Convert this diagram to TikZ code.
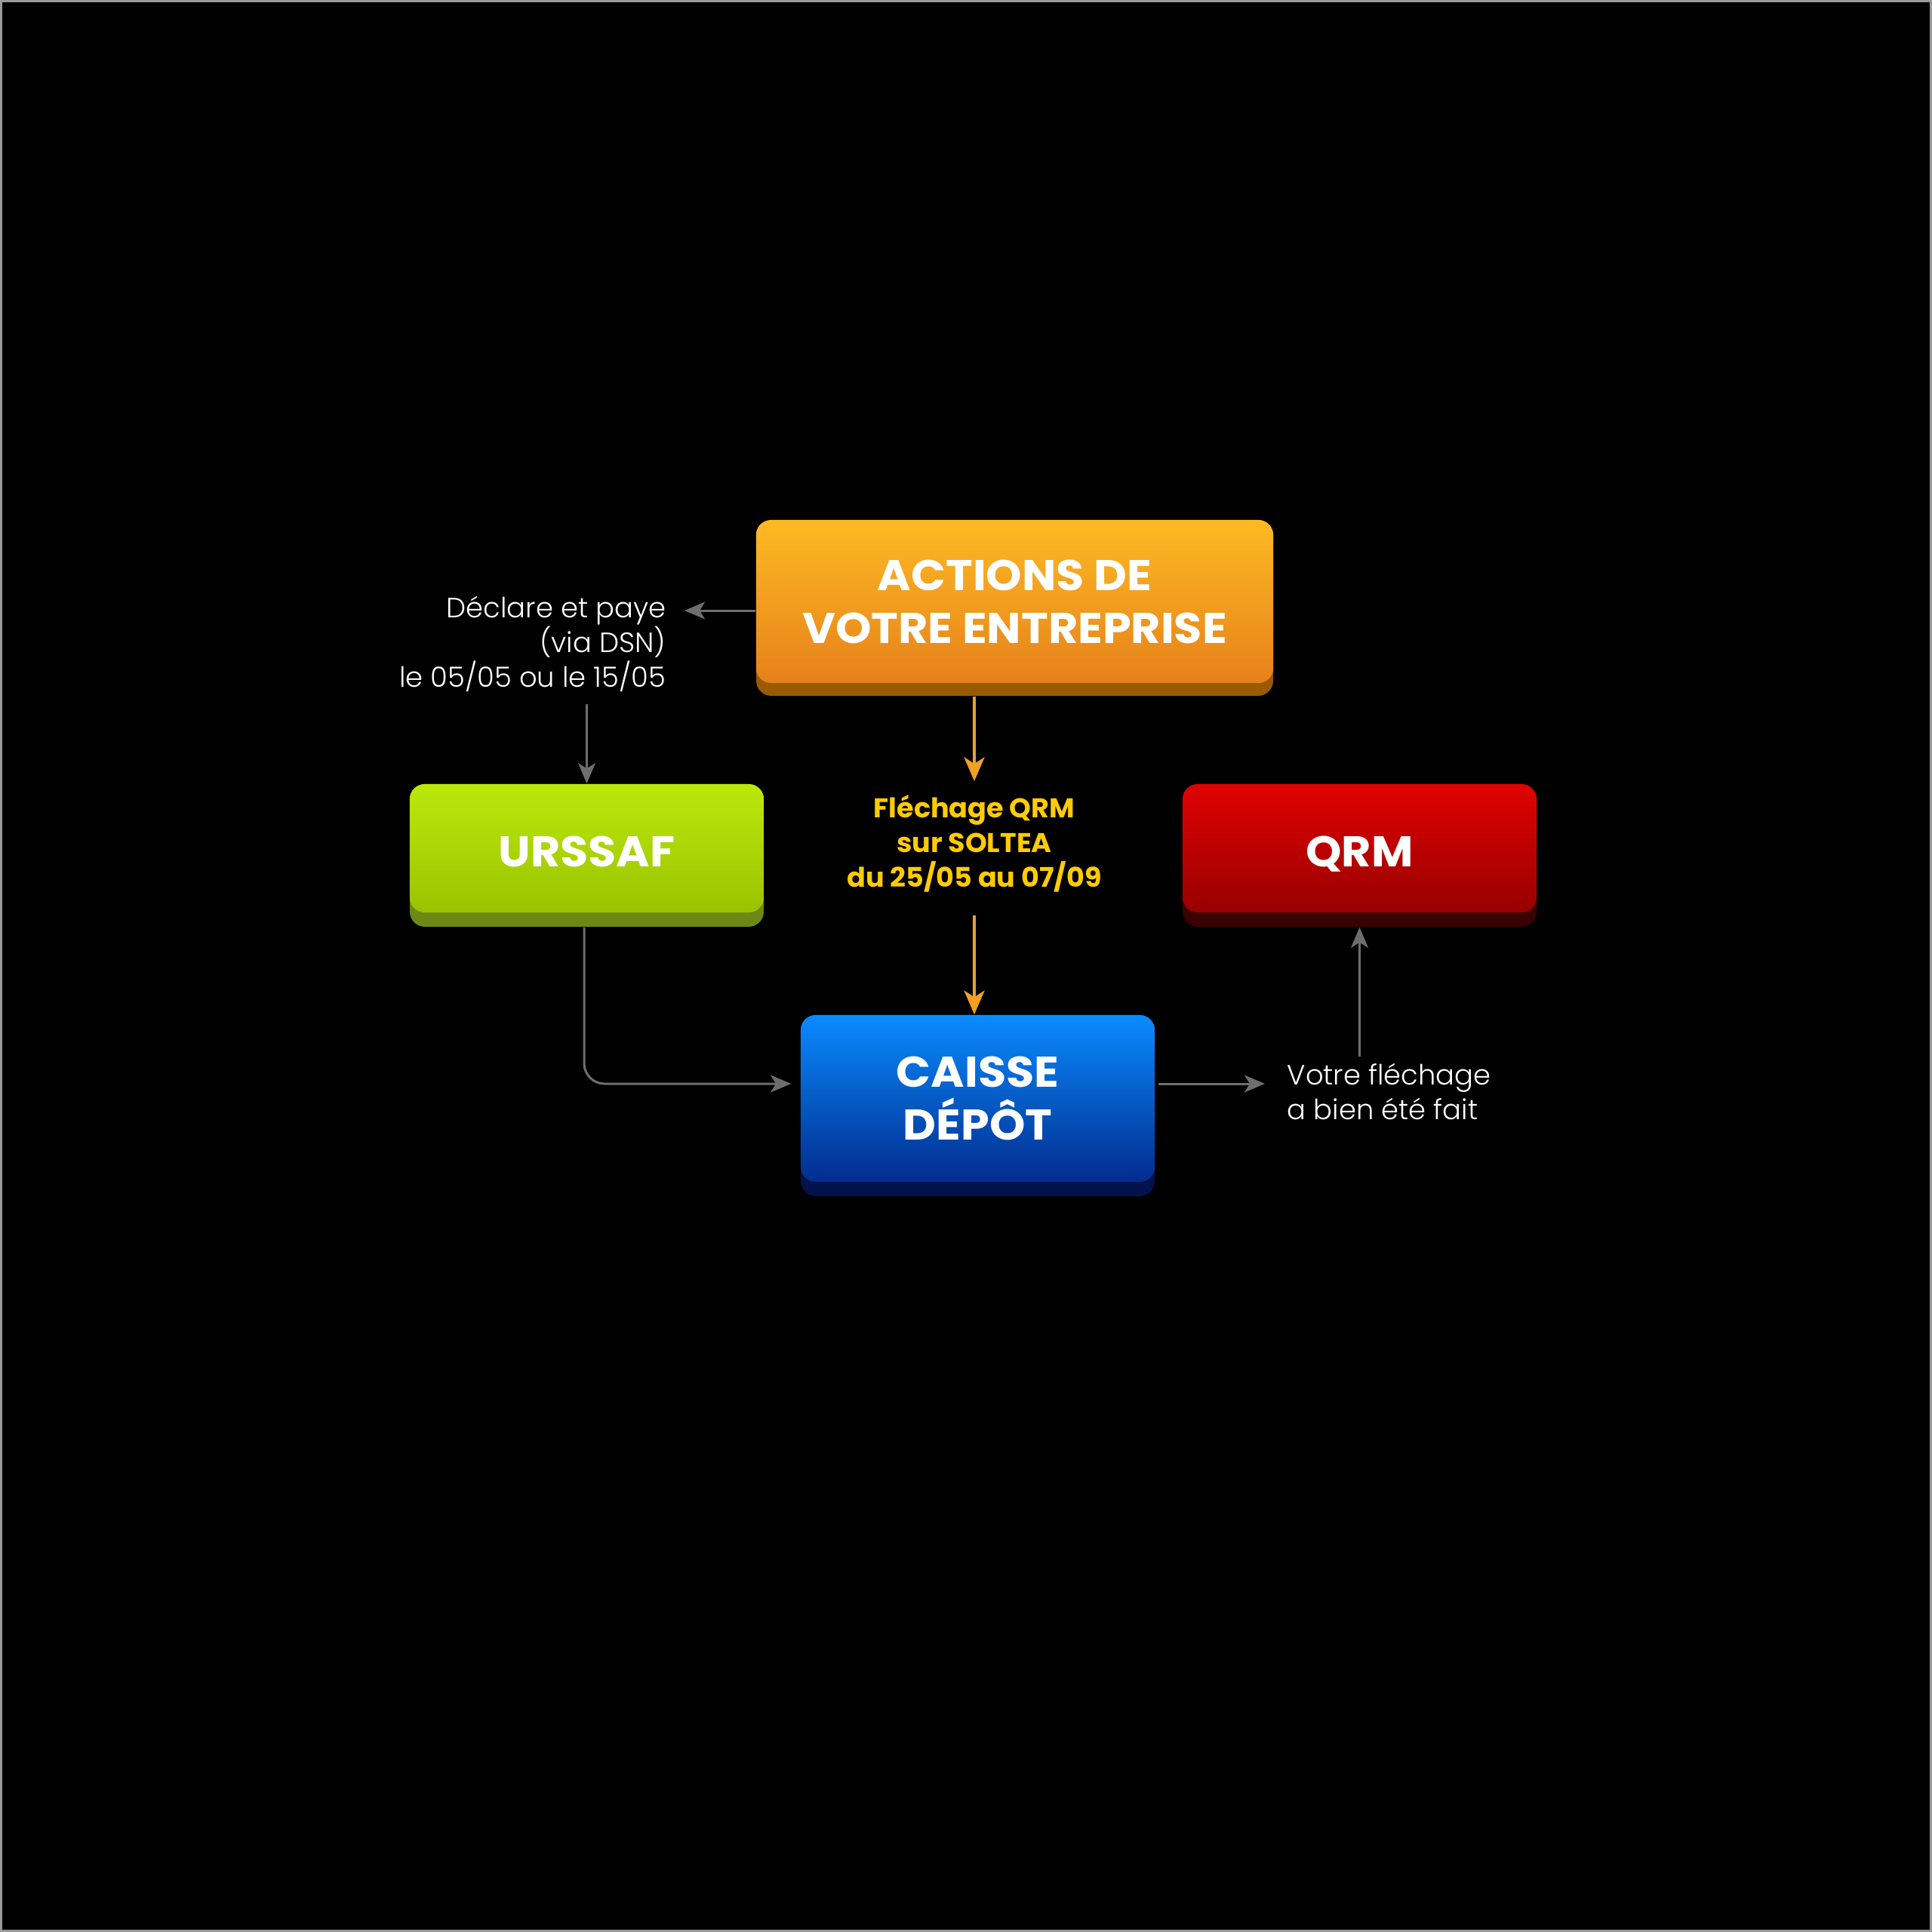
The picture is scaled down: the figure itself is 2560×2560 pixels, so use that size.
\documentclass[tikz,border=0pt]{standalone}
\usepackage{fontspec}
\setmainfont{Poppins}
\newfontfamily\lightf{Poppins Light}
\newfontfamily\boldf[FakeStretch=1.06]{Poppins Bold}
\newfontfamily\yelf[FakeStretch=1.02]{Poppins Bold}
\usetikzlibrary{arrows.meta,calc}
\definecolor{orTop}{HTML}{FDBA24}
\definecolor{orBot}{HTML}{E6811A}
\definecolor{orSh}{HTML}{985A03}
\definecolor{grTop}{HTML}{BDE80B}
\definecolor{grBot}{HTML}{9AC300}
\definecolor{grSh}{HTML}{6C8915}
\definecolor{rdTop}{HTML}{E00202}
\definecolor{rdBot}{HTML}{980000}
\definecolor{rdSh}{HTML}{3A0101}
\definecolor{blTop}{HTML}{0A8BFF}
\definecolor{blBot}{HTML}{022C8E}
\definecolor{blSh}{HTML}{03124A}
\definecolor{yel}{HTML}{FFCB05}
\definecolor{lineGray}{HTML}{6E6E6E}
\definecolor{orArrow}{HTML}{F2A023}
\definecolor{frameGray}{HTML}{9A9A9A}
\begin{document}
\begin{tikzpicture}[x=0.01cm,y=-0.01cm,
  face/.style={rectangle, rounded corners=0.2cm, inner sep=0pt, text=white, align=center,
    font=\boldf\fontsize{16.2}{19.9}\selectfont},
  oneline/.style={text height=0.48cm, text depth=0pt},
  boxshadow/.style={rounded corners=0.2cm},
  lighttext/.style={inner sep=0pt, text=white, font=\lightf\fontsize{10.5}{13.1}\selectfont},
  yeltext/.style={inner sep=0pt, text=yel, align=center, font=\yelf\fontsize{10.2}{13.1}\selectfont},
  garrow/.style={draw=lineGray, line width=0.85pt, -{Stealth[length=7.7pt,width=6.5pt,inset=2pt]}},
  oarrow/.style={draw=orArrow, line width=1.3pt, -{Stealth[length=9pt,width=7.7pt,inset=2.5pt]}}]
\useasboundingbox (0,0) rectangle (2560,2560);
\fill[black] (0,0) rectangle (2560,2560);
\draw[frameGray, line width=0.85pt] (1.5,1.5) rectangle (2558.5,2558.5);

% shadows
\fill[orSh, boxshadow] (1002,689) rectangle (1687,922);
\fill[grSh, boxshadow] (543,1039) rectangle (1012,1228);
\fill[rdSh, boxshadow] (1567,1039) rectangle (2036,1228);
\fill[blSh, boxshadow] (1061,1345) rectangle (1530,1585);

% boxes
\node[face, minimum width=6.85cm, minimum height=2.16cm, top color=orTop, bottom color=orBot] (act) at (1344.5,797) {ACTIONS DE\\VOTRE ENTREPRISE};
\node[face, oneline, minimum width=4.69cm, minimum height=1.70cm, top color=grTop, bottom color=grBot] (urs) at (777.5,1124) {URSSAF};
\node[face, oneline, minimum width=4.69cm, minimum height=1.70cm, top color=rdTop, bottom color=rdBot] (qrm) at (1801.5,1124) {QRM};
\node[face, minimum width=4.69cm, minimum height=2.21cm, top color=blTop, bottom color=blBot] (cdc) at (1295.5,1455.5) {CAISSE\\DÉPÔT};

% labels
\node[lighttext, align=right, anchor=north east] (decl) at (883,789) {Déclare et paye\\(via DSN)\\le 05/05 ou le 15/05};
\node[yeltext, anchor=north] (flech) at (1291,1053) {Fléchage QRM\\sur SOLTEA\\du 25/05 au 07/09};
\node[lighttext, align=left, anchor=north west] (votre) at (1705,1408) {Votre fléchage\\a bien été fait};

% connectors
\coordinate (a1) at ($(act.west)+(0,12)$);
\draw[garrow] (a1) -- ($(decl.east |- a1)+(24,0)$);
\draw[garrow] ($(urs.north |- decl.south)+(0,16)$) -- (urs.north);
\draw[oarrow] ($(act.south -| flech.north)+(0,17)$) -- ($(flech.north)+(0,-18)$);
\draw[oarrow] ($(flech.south)+(0,30)$) -- (cdc.north -| flech.south);
\draw[garrow, rounded corners=0.27cm] ($(urs.south)+(-3.5,19)$) |- ($(cdc.west)+(-12,-19.5)$);
\draw[garrow] ($(cdc.east)+(4,-19.5)$) -- ($(votre.west |- cdc.east)+(-29,-19.5)$);
\draw[garrow] ($(qrm.south |- votre.north)+(0,-8)$) -- ($(qrm.south)+(0,19)$);
\end{tikzpicture}
\end{document}
